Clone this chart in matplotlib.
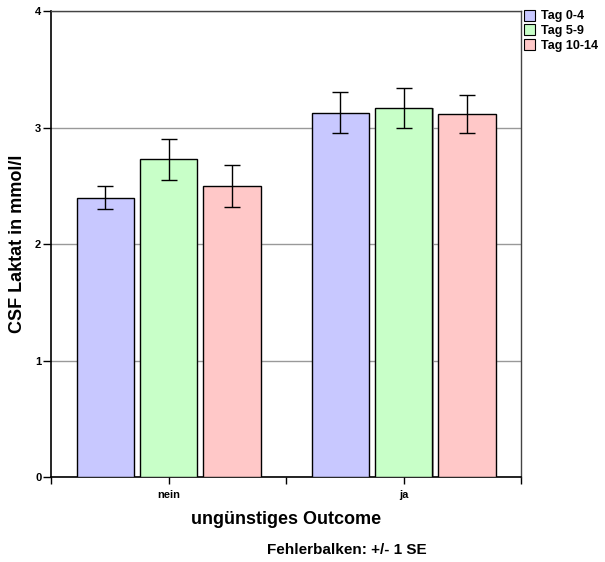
import numpy as np
import matplotlib
matplotlib.use("Agg")
import matplotlib.pyplot as plt
from matplotlib.patches import Patch

plt.rcParams['font.family'] = ['Liberation Sans', 'DejaVu Sans']
plt.rcParams['font.weight'] = 'bold'

# Data
groups = ["nein", "ja"]
series = ["Tag 0-4", "Tag 5-9", "Tag 10-14"]
means = [
    [2.40, 3.13],   # Tag 0-4
    [2.73, 3.17],   # Tag 5-9
    [2.50, 3.12],   # Tag 10-14
]
se = [
    [0.10, 0.175],
    [0.175, 0.17],
    [0.18, 0.165],
]
colors = ["#C8C8FF", "#C8FFC8", "#FFC8C8"]

fig = plt.figure(figsize=(6.05, 5.62), dpi=100)
ax = fig.add_axes([0.0843, 0.151, 0.777, 0.829])

x = np.arange(len(groups))
width = 0.243
offsets = [-0.27, 0.0, 0.27]

for i in range(len(series)):
    # soft shadow
    ax.bar(x + offsets[i] + 0.006, means[i], width, color="#999999",
           edgecolor="none", zorder=2)
    ax.bar(x + offsets[i], means[i], width, color=colors[i],
           edgecolor="black", linewidth=1.0, zorder=3)
    ax.errorbar(x + offsets[i], means[i], yerr=se[i], fmt="none",
                ecolor="black", elinewidth=1.0, capsize=6, capthick=1.0,
                zorder=4)

ax.set_xlim(-0.5, 1.5)
ax.set_ylim(0, 4)
ax.set_yticks([0, 1, 2, 3, 4])
ax.set_yticklabels(["0", "1", "2", "3", "4"], fontsize=8, fontweight="bold")
ax.set_xticks(x)
ax.set_xticklabels(groups, fontsize=8, fontweight="bold")
ax.set_xticks([-0.5, 0.5, 1.5], minor=True)
ax.tick_params(axis="y", which="major", direction="out", length=6, width=1, pad=1)
ax.tick_params(axis="x", which="major", direction="out", length=5, width=1, pad=4)
ax.tick_params(axis="x", which="minor", direction="out", length=5, width=1)
ax.grid(axis="y", color="#999999", linewidth=1.0, zorder=1)
ax.set_axisbelow(True)

for s in ["left", "bottom"]:
    ax.spines[s].set_linewidth(1.2)
for s in ["top", "right"]:
    ax.spines[s].set_linewidth(1.0)
    ax.spines[s].set_color("#444444")

ax.set_ylabel("CSF Laktat in mmol/l", fontsize=13, fontweight="bold")
ax.yaxis.set_label_coords(-0.054, 0.5)
ax.set_xlabel("ungünstiges Outcome", fontsize=13, fontweight="bold", labelpad=8)

fig.text(0.574, 0.022, "Fehlerbalken: +/- 1 SE", ha="center", va="center",
         fontsize=11, fontweight="bold")

handles = [Patch(facecolor=c, edgecolor="black", linewidth=0.8) for c in colors]
fig.legend(handles, series, loc="upper left", bbox_to_anchor=(0.866, 0.983),
           frameon=False, prop={"size": 9, "weight": "bold"},
           handlelength=0.9, handleheight=1.0, handletextpad=0.5,
           labelspacing=0.15, borderaxespad=0.0, borderpad=0.0)

fig.savefig("out.png", dpi=100)
